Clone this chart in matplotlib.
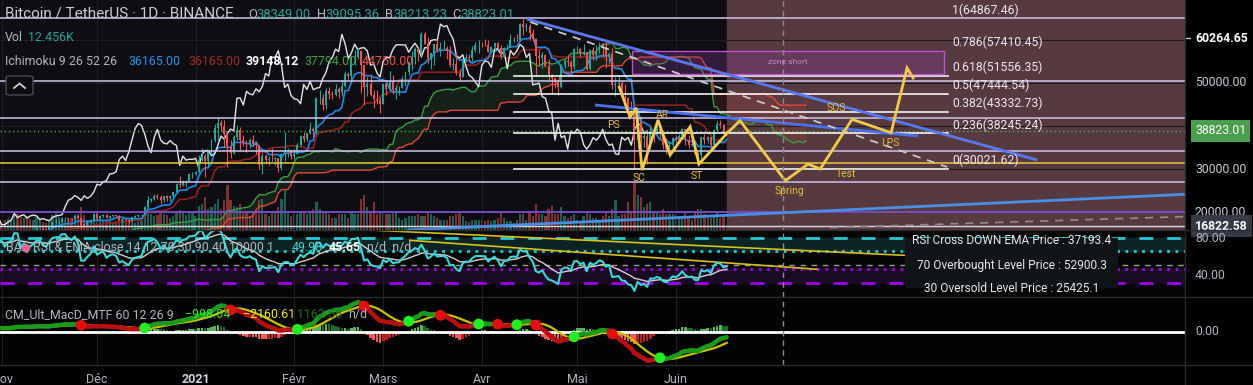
import numpy as np
import pandas as pd
import matplotlib
matplotlib.use("Agg")
import matplotlib.pyplot as plt
from matplotlib.collections import LineCollection
from matplotlib.lines import Line2D
from matplotlib.patches import Rectangle, FancyBboxPatch

plt.rcParams['font.family'] = ['Roboto', 'DejaVu Sans']

# BTCUSDT daily, 1 Oct 2020 .. 17 Jun 2021 (thousand USDT), open = previous close
first_open_k = 10.78
close_k = [
    10.62, 10.57, 10.55, 10.67, 10.79, 10.60, 10.67, 10.92, 11.06, 11.30, 11.38, 11.54, 11.43, 11.43, 11.50, 11.32,
    11.36, 11.50, 11.75, 11.92, 12.82, 12.97, 12.93, 13.12, 13.04, 13.07, 13.64, 13.28, 13.46, 13.56, 13.80,
    13.76, 13.55, 14.02, 14.15, 15.59, 15.58, 14.83, 15.48, 15.33, 15.29, 15.70, 16.28, 16.32, 16.07, 15.96,
    16.72, 17.65, 17.80, 17.82, 18.67, 18.70, 18.42, 18.36, 19.15, 18.73, 17.15, 17.14, 17.72, 18.18, 19.70,
    18.76, 19.20, 19.42, 18.65, 19.15, 19.36, 19.17, 18.32, 18.55, 18.26, 18.04, 18.81, 19.14, 19.27, 19.43, 21.34,
    22.80, 23.14, 23.86, 23.48, 22.75, 23.82, 23.24, 23.73, 24.71, 26.49, 26.28, 27.08, 27.36, 28.88, 28.98,
    29.39, 32.20, 33.00, 31.99, 34.00, 36.77, 39.43, 40.58, 40.09, 38.15, 35.40, 33.79, 37.38, 39.16, 36.77, 36.01,
    35.82, 36.63, 35.89, 35.47, 30.85, 33.01, 32.08, 32.28, 32.25, 32.47, 30.37, 33.40, 34.27, 34.32, 33.11,
    33.52, 35.51, 37.67, 36.93, 38.29, 39.26, 38.87, 46.40, 46.48, 44.84, 47.97, 47.41, 47.19, 48.58, 47.91, 49.13,
    52.12, 51.55, 55.89, 55.89, 57.41, 54.09, 48.89, 49.68, 47.06, 46.28, 46.11, 45.14,
    49.59, 48.44, 50.35, 48.37, 48.75, 48.88, 50.97, 52.38, 54.88, 55.86, 57.77, 57.22, 61.19, 59.02, 55.63, 56.90,
    58.91, 57.65, 58.03, 58.10, 57.35, 54.08, 54.34, 52.30, 51.32, 55.03, 55.84, 55.78, 57.63, 58.73, 58.79,
    58.74, 58.72, 57.06, 58.21, 59.12, 58.02, 55.95, 58.08, 58.09, 59.77, 59.96, 59.84, 63.58, 62.96, 63.23, 61.43,
    60.06, 56.27, 55.70, 56.47, 53.83, 51.70, 51.19, 50.10, 49.07, 54.02, 55.03, 54.82, 53.56, 57.75,
    57.83, 56.61, 57.21, 53.24, 57.49, 56.42, 57.36, 58.84, 58.25, 55.86, 56.75, 49.50, 49.68, 49.89, 46.76, 46.43,
    43.54, 42.90, 36.70, 40.62, 37.29, 37.72, 34.65, 38.80, 38.32, 39.24, 38.53, 35.66, 34.62, 35.66, 37.29,
    36.68, 37.56, 39.19, 36.85, 35.52, 35.80, 33.55, 33.37, 37.39, 36.69, 37.34, 35.55, 39.10, 40.52, 40.14, 38.349,
    38.823,
]
high_k = [
    10.92, 10.67, 10.60, 10.70, 10.80, 10.80, 10.68, 10.95, 11.10, 11.48, 11.44, 11.72, 11.56, 11.55, 11.63, 11.54,
    11.41, 11.50, 11.82, 11.97, 13.22, 13.19, 13.03, 13.17, 13.35, 13.24, 13.79, 13.84, 13.63, 13.66, 14.10,
    13.87, 13.82, 14.07, 14.24, 15.75, 15.96, 15.75, 15.65, 15.83, 15.48, 15.97, 16.48, 16.48, 16.35, 16.14,
    16.88, 17.86, 18.48, 18.18, 18.80, 18.96, 18.70, 18.77, 19.42, 19.48, 18.92, 17.46, 17.86, 18.35, 19.86,
    19.92, 19.31, 19.57, 19.51, 19.17, 19.42, 19.39, 19.30, 18.64, 18.56, 18.30, 18.95, 19.41, 19.35, 19.56, 21.56,
    23.80, 23.29, 24.17, 24.30, 24.10, 23.84, 24.10, 23.78, 24.79, 26.87, 28.42, 27.50, 27.41, 28.99, 29.30,
    29.60, 33.30, 34.78, 33.60, 34.50, 36.94, 40.37, 41.95, 41.38, 41.35, 38.26, 36.63, 37.85, 40.10, 39.70, 37.95,
    36.85, 37.30, 37.85, 36.42, 35.60, 33.83, 33.45, 32.94, 34.88, 32.90, 32.56, 33.78, 38.53, 34.88, 34.35,
    34.72, 35.98, 37.95, 38.70, 38.31, 40.95, 39.70, 46.79, 48.20, 47.31, 48.68, 48.98, 48.15, 49.70, 49.00, 50.60,
    52.62, 52.50, 56.37, 57.56, 58.35, 57.50, 54.20, 51.37, 52.04, 48.37, 48.40, 46.70,
    49.79, 50.13, 52.64, 51.77, 49.45, 49.20, 51.45, 52.40, 54.90, 57.39, 58.15, 58.06, 61.84, 61.68, 60.60, 56.94,
    59.00, 60.10, 59.47, 59.88, 58.59, 58.42, 55.83, 57.20, 53.23, 55.07, 56.64, 56.57, 58.40, 59.37, 59.80,
    59.46, 60.04, 59.82, 58.49, 59.25, 59.48, 58.65, 58.15, 58.89, 61.21, 60.69, 61.20, 63.77, 64.85, 63.82, 63.56,
    62.50, 60.37, 57.50, 57.06, 56.75, 55.45, 52.13, 51.17, 50.55, 54.36, 55.46, 56.43, 55.20, 57.96,
    58.46, 57.94, 58.98, 57.20, 57.91, 58.36, 58.65, 59.50, 59.30, 59.60, 57.00, 57.97, 51.37, 51.60, 50.70, 49.80,
    46.65, 45.80, 43.60, 42.45, 42.25, 38.83, 38.27, 39.92, 39.80, 40.90, 40.41, 38.86, 37.24, 36.49, 37.50,
    37.89, 38.18, 39.48, 39.24, 37.90, 36.79, 36.80, 34.07, 37.53, 38.12, 37.68, 37.45, 39.38, 41.06, 41.33, 40.50,
    39.095,
]
low_k = [
    10.38, 10.38, 10.50, 10.52, 10.64, 10.55, 10.56, 10.64, 10.82, 11.08, 11.27, 11.23, 11.31, 11.27, 11.25, 11.22,
    11.22, 11.32, 11.41, 11.69, 11.89, 12.71, 12.77, 12.88, 12.89, 12.79, 13.00, 12.96, 13.01, 13.12, 13.42,
    13.55, 13.20, 13.29, 13.52, 14.10, 15.20, 14.33, 14.72, 14.81, 15.07, 15.27, 15.54, 15.96, 15.73, 15.78,
    15.79, 16.56, 17.21, 17.36, 17.76, 18.18, 17.61, 18.02, 18.10, 18.60, 16.33, 16.53, 16.88, 17.52, 18.12,
    18.33, 18.52, 18.93, 18.59, 18.51, 18.92, 18.90, 18.20, 17.65, 18.20, 17.57, 18.02, 18.71, 19.00, 19.05, 19.28,
    21.23, 22.35, 22.77, 23.06, 21.82, 22.35, 22.63, 22.70, 23.43, 24.51, 25.85, 26.08, 25.85, 27.32, 27.85,
    28.62, 29.03, 31.96, 28.13, 30.65, 33.38, 36.25, 36.57, 38.72, 35.11, 30.42, 32.50, 33.40, 36.70, 34.41, 35.35,
    33.85, 34.81, 35.39, 33.42, 30.07, 28.85, 31.39, 31.05, 31.91, 30.84, 29.24, 29.80, 31.99, 32.86, 32.30,
    32.30, 33.42, 35.36, 36.16, 36.57, 38.22, 37.35, 38.08, 45.00, 43.72, 43.99, 46.20, 46.20, 47.00, 46.35, 47.00,
    48.94, 50.90, 50.70, 54.00, 55.48, 47.60, 44.88, 47.00, 46.82, 44.11, 45.00, 43.00,
    45.00, 47.05, 48.12, 47.50, 46.30, 47.07, 48.88, 49.27, 51.84, 53.00, 54.27, 55.06, 56.08, 58.90, 54.60, 53.22,
    54.12, 57.02, 56.27, 57.82, 55.45, 53.65, 53.00, 51.70, 50.43, 51.25, 54.68, 54.75, 55.06, 57.01, 56.98,
    58.33, 58.50, 57.00, 56.77, 57.40, 57.55, 55.47, 55.70, 57.60, 58.80, 59.38, 59.58, 59.79, 61.00, 62.00, 60.00,
    59.55, 51.54, 54.19, 53.42, 53.56, 50.58, 47.50, 48.77, 47.05, 48.76, 53.32, 53.94, 52.37, 53.07,
    56.85, 56.01, 56.48, 53.00, 52.90, 55.24, 55.30, 56.82, 56.24, 53.40, 54.42, 48.60, 46.98, 48.00, 46.56, 43.83,
    42.00, 42.20, 30.02, 34.86, 33.49, 35.20, 31.11, 34.56, 36.37, 37.81, 37.19, 34.70, 33.40, 33.63, 34.16,
    35.67, 35.95, 37.17, 35.58, 34.80, 35.27, 33.35, 31.00, 32.40, 35.79, 35.97, 34.60, 34.75, 38.73, 39.50, 38.12,
    38.213,
]
volume_k = [
    40, 45, 30, 25, 35, 40, 38, 45, 40, 35, 30, 40, 45, 40, 35, 38, 25, 25, 40, 45, 80, 75, 60, 50, 45, 55, 70, 65, 55, 50, 45,
    40, 60, 65, 55, 95, 90, 75, 70, 80, 65, 60, 75, 65, 45, 40, 60, 85, 95, 75, 65, 55, 55, 70, 85, 90, 130, 85, 60, 55, 80,
    95, 75, 55, 60, 50, 40, 45, 60, 65, 55, 70, 50, 40, 45, 50, 110, 150, 90, 80, 85, 100, 90, 85, 70, 80, 95, 115, 100, 85, 110, 95,
    80, 140, 150, 190, 120, 130, 150, 180, 120, 170, 260, 170, 140, 130, 150, 100, 100, 80, 100, 120, 170, 180, 90, 80, 110, 110, 130, 180, 230, 100, 80,
    90, 90, 110, 100, 90, 110, 120, 160, 120, 110, 100, 90, 70, 70, 90, 90, 90, 70, 100, 90, 90, 180, 200, 130, 110, 160, 90, 100,
    100, 90, 90, 100, 110, 70, 60, 70, 80, 80, 80, 90, 80, 80, 100, 90, 80, 70, 60, 55, 55, 80, 80, 90, 100, 80, 50, 45, 60, 55, 60,
    60, 50, 60, 50, 60, 70, 100, 70, 50, 50, 40, 60, 90, 90, 60, 110, 80, 150, 90, 90, 80, 120, 140, 90, 90, 130, 80, 70, 80, 90,
    60, 50, 80, 110, 90, 70, 70, 60, 80, 110, 80, 120, 170, 80, 90, 90, 160, 110, 270, 200, 190, 130, 150, 160, 100, 100, 90, 120, 90, 90, 90,
    90, 70, 70, 110, 80, 60, 100, 120, 120, 90, 70, 70, 80, 110, 70, 80, 12.456,
]

month_idx = [31, 61, 92, 123, 151, 182, 212, 243]
month_lbl = ["Nov", "Déc", "2021", "Févr", "Mars", "Avr", "Mai", "Juin"]

fib_ratio = ["1", "0.786", "0.618", "0.5", "0.382", "0.236", "0"]
fib_price = [64867.46, 57410.45, 51556.35, 47444.54, 43332.73, 38245.24, 30021.62]
fib_span = [192.1, 328.6]
hline_lav = [64867.46, 50463, 41759, 34259, 27083]
hline_yellow = 31343
hline_purple = 20069
hline_white = 16822.58
last_price = 38823.01

# drawings: (day index, price)
trend_blue1 = [(196.2, 64745), (356.6, 32106)]
trend_blue2 = [(217.6, 44838), (319.2, 37662)]
trend_dash = [(197.2, 64051), (328.3, 30486)]
trend_rise = [(158.5, 15903), (403.1, 24167)]
trend_rise_dash = [(291.5, 16450), (403.1, 19005)]
wyckoff_x = [225.2, 228.6, 230.5, 232.4, 237.4, 241.2, 247.5, 250.3, 259.1, 263.2, 277.4, 284.6, 288.4, 298.4, 310.7, 315.7, 317.6]
wyckoff_y = [49005, 42060, 44144, 29792, 41366, 33264, 39815, 31181, 38287, 41204, 27315, 31181, 30023, 41528, 38426, 53403, 51088]
wyckoff_txt = ["PS", "SC", "AR", "ST", "Spring", "Test", "SOS", "LPS"]
wyckoff_tx = [223.3, 231.4, 238.7, 249.7, 278.9, 296.5, 293.4, 310.4]
wyckoff_ty = [40208, 27940, 42523, 28403, 24931, 28866, 44144, 36042]
zone_short = (229.2, 327.4, 52000, 57410)
future_start = 259.1
cursor_day = 276.6

rsi_levels = [80, 66.3, 50.5, 46.2, 31.4]
rsi_trend1 = [(149.0, 88.3), (340.6, 57.1)]
rsi_trend2 = [(159.4, 77.5), (287.4, 46.2)]

close = np.array(close_k) * 1000
high = np.array(high_k) * 1000
low = np.array(low_k) * 1000
vol = np.array(volume_k)
opn = np.r_[first_open_k * 1000, close[:-1]]
idx = np.arange(len(close))

# indicators
c = pd.Series(close)
hs, ls = pd.Series(high), pd.Series(low)
tenkan = (hs.rolling(9).max() + ls.rolling(9).min()) / 2
kijun = (hs.rolling(26).max() + ls.rolling(26).min()) / 2
span_a = (tenkan + kijun) / 2
span_b = (hs.rolling(52).max() + ls.rolling(52).min()) / 2
d = c.diff()
gain = d.clip(lower=0).ewm(alpha=1 / 14, adjust=False).mean()
loss = (-d.clip(upper=0)).ewm(alpha=1 / 14, adjust=False).mean()
rsi = 100 - 100 / (1 + gain / loss)
rsi_ema = rsi.ewm(span=12, adjust=False).mean()
macd = c.ewm(span=12, adjust=False).mean() - c.ewm(span=26, adjust=False).mean()
sig = macd.rolling(9, min_periods=1).mean()
hist = macd - sig

W, H = 1253, 385
BG = '#0e0e12'
UP, DN = '#26a69a', '#ef5350'
TXT = '#b2b5be'
LEG = 8.9


def rect(x0, y0, x1, y1):
    return [x0 / W, 1 - y1 / H, (x1 - x0) / W, (y1 - y0) / H]


def ftext(x, y, s, **kw):
    kw.setdefault('fontsize', LEG)
    kw.setdefault('va', 'center')
    fig.text(x / W, 1 - y / H, s, **kw)


fig = plt.figure(figsize=(W / 100, H / 100), dpi=100, facecolor='#000000')
XL = (30.5, 403.1)

ax_vol = fig.add_axes(rect(0, 0, 1185, 230), facecolor=BG)
ax = fig.add_axes(rect(0, 0, 1185, 230), sharex=ax_vol, facecolor='none')
ax_rsi = fig.add_axes(rect(0, 230, 1185, 297), sharex=ax_vol, facecolor='#050506')
ax_macd = fig.add_axes(rect(0, 297, 1185, 365), sharex=ax_vol, facecolor='#030303')
for a in (ax_vol, ax, ax_rsi, ax_macd):
    a.set_xlim(*XL)
    for s in a.spines.values():
        s.set_visible(False)
    a.set_xticks([])
    a.set_yticks([])
    for m in month_idx:
        a.axvline(m, color='#1d1d22', lw=0.8, zorder=0.2)
    a.axvline(cursor_day, color='#8a8a8a', lw=1, ls=(0, (4, 3)), zorder=6)

# volume
ax_vol.set_ylim(0, 1320)
ax_vol.bar(idx, vol, width=0.7, color=np.where(close >= opn, '#1f6a63', '#8a3838'), alpha=0.9)

# main pane
ax.set_ylim(15903, 69144)
ax.axvspan(future_start, XL[1], color='#573a3f', zorder=0)
for p in range(20000, 70000, 10000):
    ax.axhline(p, color='#1d1d22', lw=0.8, zorder=0.3)

ax.fill_between(idx + 25, span_a, span_b, where=(span_a >= span_b), interpolate=True, color='#43a047', alpha=0.13, lw=0, zorder=1)
ax.fill_between(idx + 25, span_a, span_b, where=(span_a < span_b), interpolate=True, color='#f44336', alpha=0.13, lw=0, zorder=1)
ax.plot(idx + 25, span_a, color='#3f9a43', lw=1, zorder=1.5)
ax.plot(idx + 25, span_b, color='#e0463c', lw=1, zorder=1.5)
ax.plot(idx, kijun, color='#8e2020', lw=1.2, zorder=1.6)
ax.plot(idx, tenkan, color='#1e88e5', lw=1.2, zorder=1.7)
ax.plot(idx - 25, close, color='#e4e4e4', lw=1, zorder=1.8)

upm = close >= opn
cols = np.where(upm, UP, DN)
ax.vlines(idx, low, high, colors=cols, lw=0.8, zorder=3)
ax.bar(idx, np.maximum(np.abs(close - opn), 40), bottom=np.minimum(opn, close), width=0.62, color=cols, zorder=3.1)

for p in hline_lav:
    ax.axhline(p, color='#cfc6ec', lw=1.1, zorder=3.5)
ax.axhline(hline_yellow, color='#e8c93c', lw=1.1, zorder=3.5)
ax.axhline(hline_purple, color='#7a4fd0', lw=1.3, zorder=3.5)
ax.axhline(hline_white, color='#d8d8d8', lw=1, zorder=3.5)
ax.axhline(last_price, color='#4caf50', lw=1, ls=(0, (1, 2)), zorder=3.5)

for p in fib_price[2:]:
    ax.plot(fib_span, [p, p], color='#f2f2f2', lw=1.2, zorder=3.6)
for r, p in zip(fib_ratio, fib_price):
    ax.annotate(f"{r}({p:.2f})", (fib_span[1] + 1.3, p), xytext=(0, 6), textcoords='offset points',
                color='#ece6f2', fontsize=8.8, va='center', ha='left', zorder=7)

zx0, zx1, zy0, zy1 = zone_short
ax.add_patch(Rectangle((zx0, zy0), zx1 - zx0, zy1 - zy0, facecolor='#8a3d9a', alpha=0.3, edgecolor='none', zorder=3.7))
ax.add_patch(Rectangle((zx0, zy0), zx1 - zx0, zy1 - zy0, facecolor='none', edgecolor='#c24fd0', lw=1, zorder=3.8))
ax.text((zx0 + zx1) / 2, (zy0 + zy1) / 2, "zone short", color='#c58ccc', fontsize=6, ha='center', va='center', zorder=7)

for line, colr, lw, ls in [(trend_blue1, '#5a78ee', 2, '-'), (trend_blue2, '#4a6ff0', 2, '-'),
                           (trend_dash, '#d0d0d0', 1.2, (0, (5, 4))), (trend_rise, '#4a8fe6', 2, '-'),
                           (trend_rise_dash, '#8c8c8c', 1.2, (0, (5, 4)))]:
    xs, ys = zip(*line)
    ax.plot(xs, ys, color=colr, lw=lw, ls=ls, zorder=4, solid_capstyle='butt')

ax.plot(wyckoff_x, wyckoff_y, color='#f2c94c', lw=2, zorder=5, solid_joinstyle='miter')
for t, x, y in zip(wyckoff_txt, wyckoff_tx, wyckoff_ty):
    ax.text(x, y, t, color='#e2bd3a', fontsize=7.5, ha='center', va='center', zorder=7)

# price axis labels
ytr = ax.get_yaxis_transform()
for p, s, colr, wt in [(60264.65, '60264.65', '#ffffff', 'bold'), (50000, '50000.00', '#c9ccd4', 'normal'),
                       (30000, '30000.00', '#c9ccd4', 'normal'), (20000, '20000.00', '#c9ccd4', 'normal')]:
    ax.text(1.0084, p, s, transform=ytr, color=colr, fontsize=8.8, fontweight=wt, va='center', ha='left', clip_on=False)
# 40000.00 mostly hidden behind the last-price tag
ax.text(1.0084, 40000, '40000.00', transform=ytr, color='#c9ccd4', fontsize=8.8, va='center', ha='left',
        clip_on=False, zorder=1)
ax.plot([1.0, 1.004], [60264.65, 60264.65], transform=ytr, color='#c9ccd4', lw=1, clip_on=False)
ax.text(1.0084, last_price, '38823.01', transform=ytr, color='#ffffff', fontsize=8.8, va='center', ha='left',
        bbox=dict(boxstyle='square,pad=0.35', fc='#4a9e4e', ec='none'), clip_on=False, zorder=8)
ax.text(1.0084, hline_white, '16822.58', transform=ytr, color='#ffffff', fontsize=8.8, fontweight='bold', va='center',
        ha='left', bbox=dict(boxstyle='square,pad=0.35', fc='#363a45', ec='none'), clip_on=False, zorder=8)

# RSI pane
ax_rsi.set_ylim(16.22, 88.65)
ax_rsi.axhspan(rsi_levels[1], rsi_levels[0], color='#0d2424', zorder=0.1)
ax_rsi.axhspan(rsi_levels[4], rsi_levels[3], color='#1a0a24', zorder=0.1)
ax_rsi.axhline(rsi_levels[0], color='#2ac7cf', lw=2, ls=(0, (5, 5)), zorder=1)
ax_rsi.axhline(rsi_levels[1], color='#2ac7cf', lw=2, ls=(0, (1, 2)), zorder=1)
ax_rsi.axhline(rsi_levels[2], color='#9a9a9a', lw=1, ls=(0, (4, 4)), zorder=1)
ax_rsi.axhline(rsi_levels[3], color='#a000ee', lw=2, ls=(0, (1, 2)), zorder=1)
ax_rsi.axhline(rsi_levels[4], color='#a000ee', lw=2, ls=(0, (5, 5)), zorder=1)
for line in (rsi_trend1, rsi_trend2):
    xs, ys = zip(*line)
    ax_rsi.plot(xs, ys, color='#d8c020', lw=1.2, zorder=2)
ax_rsi.plot(idx, rsi_ema, color='#d0d0d0', lw=1, zorder=3)
ax_rsi.plot(idx, rsi, color='#3fd6d6', lw=1.5, zorder=4)
ax_rsi.add_patch(Rectangle((0.7637, 0.13), 0.18, 0.75, transform=ax_rsi.transAxes, facecolor='#111417', edgecolor='none', zorder=5))
rtr = ax_rsi.get_yaxis_transform()
for v, s in [(80, '80.00'), (40, '40.00')]:
    ax_rsi.text(1.0084, v, s, transform=rtr, color=TXT, fontsize=8.8, va='center', ha='left', clip_on=False)

# MACD pane
ax_macd.set_ylim(-5810, 6162)
hcol = np.where(hist >= 0,
                np.where(hist.diff() >= 0, '#5aae5a', '#1d6a28'),
                np.where(hist.diff() < 0, '#f05a5a', '#b52222'))
ax_macd.bar(idx, hist, width=0.8, color=hcol, zorder=1)
ax_macd.axhline(0, color='#ffffff', lw=2, zorder=2)
ax_macd.plot(idx, sig, color='#c8c200', lw=1.6, zorder=3)
pts = np.column_stack([idx, macd])
segs = np.stack([pts[:-1], pts[1:]], axis=1)
mcol = np.where((macd >= sig).values[1:], '#1c9a1c', '#b81010')
ax_macd.add_collection(LineCollection(segs, colors=mcol, linewidths=3.2, zorder=4, capstyle='round'))
above = (macd >= sig).values
cross = np.where(above[1:] != above[:-1])[0] + 1
ax_macd.scatter(idx[cross], macd.values[cross], s=60, c=np.where(above[cross], '#22ee22', '#e01010'), zorder=5, lw=0)
ax_macd.text(1.0084, 0, '0.00', transform=ax_macd.get_yaxis_transform(), color=TXT, fontsize=8.8, va='center',
             ha='left', clip_on=False)

# separators
for y in (230, 297, 365):
    fig.add_artist(Line2D([0, 1], [1 - y / H] * 2, color='#2a2a2f', lw=1, transform=fig.transFigure))
fig.add_artist(Line2D([1185 / W] * 2, [0, 1], color='#2a2a2f', lw=1, transform=fig.transFigure))

# x axis labels
xtr = ax_macd.get_xaxis_transform()
for m, s in zip(month_idx, month_lbl):
    ax_macd.text(m, -0.21, s, transform=xtr, color='#d1d4dc' if s == '2021' else TXT, fontsize=9,
                 fontweight='bold' if s == '2021' else 'normal', ha='center', va='center', clip_on=False)

# legends
ftext(5, 14, "Bitcoin / TetherUS · 1D · BINANCE", color='#c9ccd4', fontsize=11)
for x, letter, val in [(248, "O", "38349.00"), (317, "H", "39095.36"), (385, "B", "38213.23"), (452, "C", "38823.01")]:
    ftext(x, 14, letter, color=TXT, fontsize=9.3)
    ftext(x + 8.5, 14, val, color=UP, fontsize=9.3)
ftext(5, 37.5, "Vol", color=TXT)
ftext(28, 37.5, "12.456K", color=UP)
ftext(5, 61.5, "Ichimoku 9 26 52 26", color=TXT)
for x, s, colr, wt in [(128.5, "36165.00", '#2196f3', 'normal'), (188, "36165.00", '#a52828', 'normal'),
                       (246, "39148.12", '#ffffff', 'bold'), (304, "37794.00", '#43a047', 'normal'),
                       (362, "44750.00", '#f05050', 'normal')]:
    ftext(x, 61.5, s, color=colr, fontweight=wt)
fig.add_artist(FancyBboxPatch((6 / W, 1 - 95 / H), 27 / W, 19 / H, boxstyle='round,pad=0,rounding_size=0.004',
                              transform=fig.transFigure, fc=BG, ec='#4a4a52', lw=1))
fig.add_artist(Line2D([14 / W, 19.5 / W, 25 / W], [1 - 88 / H, 1 - 83.5 / H, 1 - 88 / H], color='#d0d0d0', lw=1.3,
                      transform=fig.transFigure))

ftext(6, 247.7, "BA", color=TXT)
ftext(20.5, 247.7, "●", color='#f06292', fontsize=8)
ftext(33, 247.7, "RSI & EMA close 14 12 70 30 90 40 10000 1", color=TXT)
ftext(292, 247.7, "49.98", color='#3fd6d6')
ftext(329, 247.7, "45.65", color='#ffffff', fontweight='bold')
ftext(367, 247.7, "n/d  n/d", color=TXT)

ftext(5, 314.3, "CM_Ult_MacD_MTF 60 12 26 9", color=TXT)
ftext(185, 314.3, "−998.04", color='#33ee33')
ftext(243, 314.3, "−2160.61", color='#eeee22')
ftext(297, 314.3, "1162.56", color='#1d6a28')
ftext(348, 314.3, "n/d", color=TXT)

for y, s in [(240.7, "RSI Cross DOWN EMA Price : 37193.4"), (265, "70 Overbought Level Price : 52900.3"),
             (288.3, "30 Oversold Level Price : 25425.1")]:
    ftext(1012, y, s, color='#e6e6e6', fontsize=8.6, ha='center')

fig.savefig("out.png", dpi=100, facecolor='#000000')
